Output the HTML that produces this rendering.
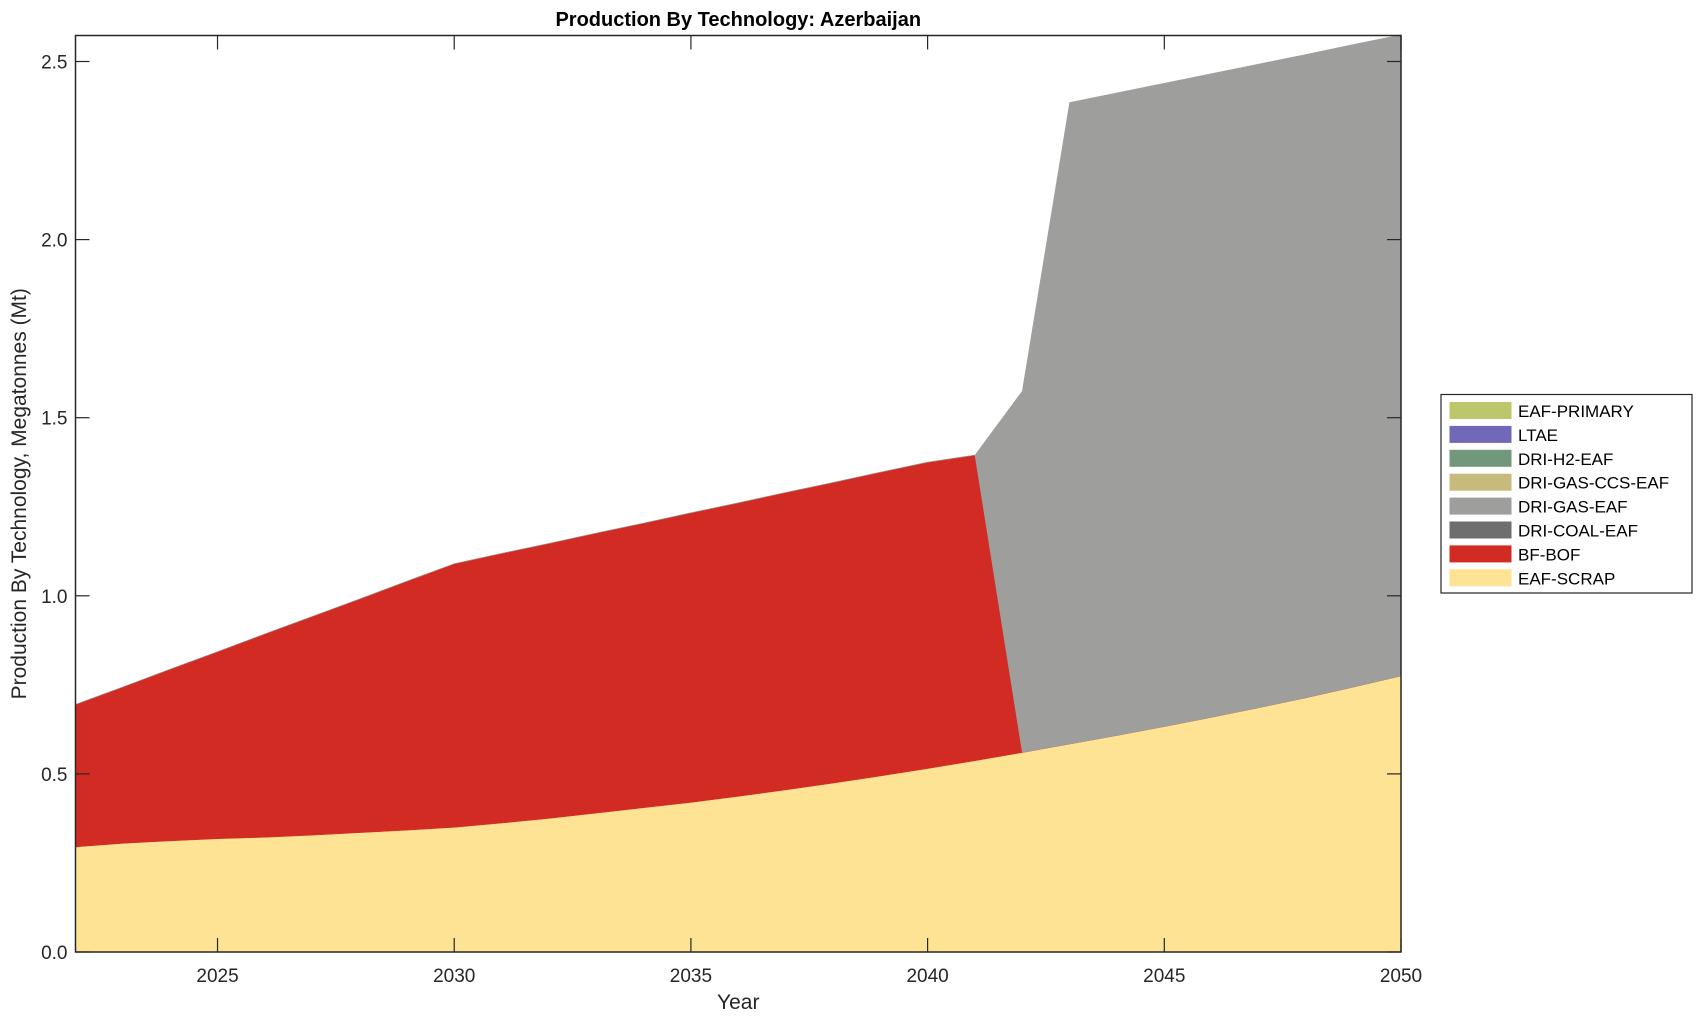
<!DOCTYPE html>
<html><head><meta charset="utf-8"><style>
html,body{margin:0;padding:0;background:#fff;}
svg{display:block;font-family:"Liberation Sans",Arial,sans-serif;}
</style></head><body>
<svg id="chart" width="1703" height="1020"></svg>
<script>
const years = [2022,2023,2024,2025,2026,2027,2028,2029,2030,2031,2032,2033,2034,2035,2036,2037,2038,2039,2040,2041,2042,2043,2044,2045,2046,2047,2048,2049,2050];
const eafScrap = [0.295,0.305,0.312,0.318,0.322,0.328,0.335,0.342,0.350,0.362,0.375,0.390,0.405,0.420,0.437,0.455,0.474,0.494,0.515,0.537,0.560,0.584,0.608,0.633,0.659,0.686,0.714,0.744,0.775];
const bfBof = [0.400,0.439,0.482,0.525,0.571,0.614,0.656,0.699,0.740,0.757,0.772,0.786,0.799,0.813,0.824,0.835,0.844,0.853,0.860,0.858,0,0,0,0,0,0,0,0,0];
const driCoal = years.map(()=>0);
const driGas = [0,0,0,0,0,0,0,0,0,0,0,0,0,0,0,0,0,0,0,0,1.015,1.801,1.804,1.806,1.807,1.807,1.806,1.804,1.800];
const driGasCcs = years.map(()=>0);
const driH2 = years.map(()=>0);
const ltae = years.map(()=>0);
const eafPrimary = years.map(()=>0);
const seriesNames = ["EAF-SCRAP","BF-BOF","DRI-COAL-EAF","DRI-GAS-EAF","DRI-GAS-CCS-EAF","DRI-H2-EAF","LTAE","EAF-PRIMARY"];
const seriesData = [eafScrap,bfBof,driCoal,driGas,driGasCcs,driH2,ltae,eafPrimary];
const seriesColors = ["#fee394","#d12b24","#6e6e6e","#9e9e9c","#c6bb7d","#72977a","#7268b8","#bcc66a"];
const yTicks = [0,0.5,1,1.5,2,2.5];
const yTickLabels = ["0.0","0.5","1.0","1.5","2.0","2.5"];
const xTicks = [2025,2030,2035,2040,2045,2050];

const L=75.5,R=1401,T=35.5,B=952,yMax=2.573;
const xs=v=>L+(v-2022)/(2050-2022)*(R-L);
const ys=v=>B-v/yMax*(B-T);
const NS="http://www.w3.org/2000/svg";
const svg=document.getElementById('chart');
function mk(tag,attrs,parent){const e=document.createElementNS(NS,tag);for(const k in attrs)e.setAttribute(k,attrs[k]);(parent||svg).appendChild(e);return e;}

const areas=mk('g',{});


let base=years.map(()=>0);
seriesData.forEach((d,i)=>{
  const top=base.map((b,j)=>b+d[j]);
  let pts=years.map((y,j)=>xs(y)+','+ys(top[j]));
  for(let j=years.length-1;j>=0;j--)pts.push(xs(years[j])+','+ys(base[j]));
  if(d.some(v=>v>0)){
    const p=mk('polygon',{points:pts.join(' '),fill:seriesColors[i],stroke:seriesColors[i],'stroke-width':0.5},areas);
    
    
  }
  base=top;
});

const frame=mk('rect',{x:L,y:T,width:R-L,height:B-T,fill:'none',stroke:'#262626','stroke-width':1.5});



yTicks.forEach((v,i)=>{
  const y=ys(v);
  mk('line',{x1:L,x2:L+14,y1:y,y2:y,stroke:'#262626','stroke-width':1.2});
  mk('line',{x1:R-14,x2:R,y1:y,y2:y,stroke:'#262626','stroke-width':1.2});
  const t=mk('text',{x:L-8,y:y+7,'text-anchor':'end','font-size':19,fill:'#262626'});
  t.textContent=yTickLabels[i];
  
  
});
xTicks.forEach(v=>{
  const x=xs(v);
  mk('line',{x1:x,x2:x,y1:B,y2:B-14,stroke:'#262626','stroke-width':1.2});
  mk('line',{x1:x,x2:x,y1:T,y2:T+14,stroke:'#262626','stroke-width':1.2});
  const t=mk('text',{x:x,y:B+30,'text-anchor':'middle','font-size':19,fill:'#262626'});
  t.textContent=v;
  
  
});

const title=mk('text',{x:(L+R)/2,y:26,'text-anchor':'middle','font-size':20,'font-weight':'bold',fill:'#000'});
title.textContent='Production By Technology: Azerbaijan';


const xt=mk('text',{x:(L+R)/2,y:1009,'text-anchor':'middle','font-size':21,fill:'#262626'});
xt.textContent='Year';


const yt=mk('text',{x:0,y:0,'text-anchor':'middle','font-size':21,fill:'#262626',transform:'translate(26,'+((T+B)/2)+') rotate(-90)'});
yt.textContent='Production By Technology, Megatonnes (Mt)';



const lg=mk('g',{});


mk('rect',{x:1441,y:394.5,width:251,height:198.5,fill:'#fff',stroke:'#262626','stroke-width':1.2},lg);
for(let k=0;k<8;k++){
  const i=7-k;
  const y=410+k*23.9;
  const sw=mk('rect',{x:1449.5,y:y-8,width:62,height:17,fill:seriesColors[i]},lg);
  
  
  const t=mk('text',{x:1518,y:y+7,'font-size':17,fill:'#000'},lg);
  t.textContent=seriesNames[i];
  
  
}
</script>
</body></html>
